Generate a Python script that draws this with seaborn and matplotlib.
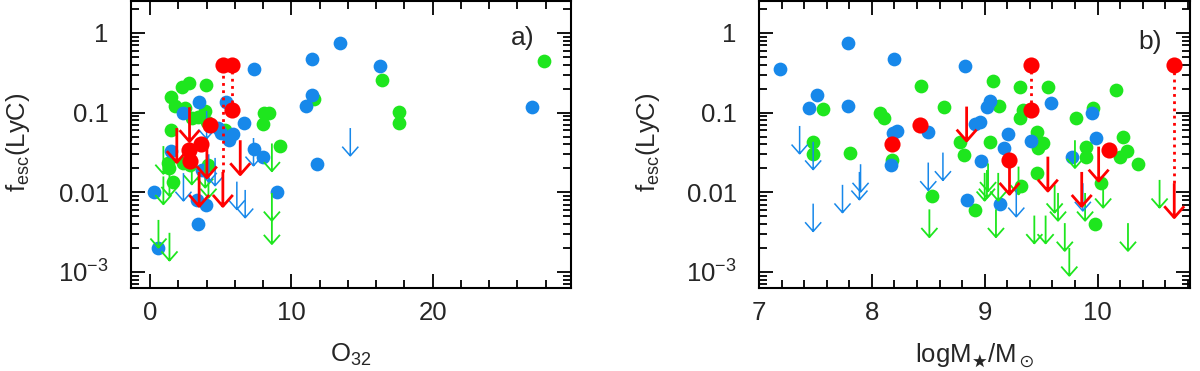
import matplotlib
matplotlib.use('Agg')
import matplotlib.pyplot as plt
from matplotlib.path import Path
from matplotlib.ticker import MultipleLocator, LogLocator, NullFormatter
import seaborn as sns

# ---- panel a) : fesc vs O32 ----
a_blue_x = [13.46, 11.45, 7.32, 16.3, 3.47, 5.36, 2.36, 11.45, 11.0, 27.04, 6.66, 4.84, 5.0,
            5.86, 5.6, 1.51, 7.37, 7.98, 11.8, 3.66, 8.98, 0.28, 3.3, 3.95, 3.38, 0.59]
a_blue_y = [0.74, 0.47, 0.353, 0.385, 0.137, 0.135, 0.10, 0.164, 0.121, 0.116, 0.075, 0.064, 0.055,
            0.054, 0.0455, 0.0333, 0.035, 0.0276, 0.0225, 0.019, 0.010, 0.010, 0.008, 0.007, 0.004, 0.002]
a_green_x = [2.72, 2.29, 3.95, 1.46, 1.77, 2.48, 3.9, 3.42, 2.95, 1.46, 5.31, 8.03, 8.45, 7.98,
             9.21, 1.30, 1.37, 2.36, 4.13, 1.65, 16.4, 17.64, 17.64, 27.9, 4.02, 11.6, 2.83]
a_green_y = [0.234, 0.209, 0.222, 0.159, 0.121, 0.114, 0.106, 0.089, 0.085, 0.061, 0.061, 0.098, 0.10, 0.071,
             0.0385, 0.023, 0.020, 0.023, 0.022, 0.0136, 0.257, 0.102, 0.074, 0.445, 0.077, 0.15, 0.022]
a_red_x = [5.15, 5.81, 5.81, 4.27, 3.59, 2.72, 2.79]
a_red_y = [0.40, 0.40, 0.108, 0.070, 0.0405, 0.034, 0.025]
# upper limits (arrow starts at the value)
a_blue_lim_x = [14.17, 2.36, 4.6, 4.15, 6.14, 6.73, 7.32, 4.0]
a_blue_lim_y = [0.064, 0.0174, 0.027, 0.030, 0.0136, 0.0107, 0.048, 0.105]
a_green_lim_x = [0.59, 1.37, 0.94, 0.94, 1.37, 2.95, 3.9, 4.13, 8.62, 8.62, 8.62]
a_green_lim_y = [0.0045, 0.0031, 0.038, 0.0158, 0.020, 0.028, 0.0255, 0.019, 0.041, 0.0098, 0.0050]
a_red_lim_x = [2.79, 1.89, 4.02, 3.47, 5.15, 6.38]
a_red_lim_y = [0.117, 0.064, 0.041, 0.018, 0.018, 0.045]
# same object, two estimates (dotted)
a_pair_x = [5.15, 5.81]
a_pair_hi = [0.40, 0.40]
a_pair_lo = [0.018, 0.108]

# ---- panel b) : fesc vs stellar mass ----
b_blue_x = [7.19, 7.79, 8.20, 8.83, 7.51, 7.44, 7.79, 8.22, 8.19, 8.50, 8.17, 8.84, 9.05, 9.02,
            9.59, 8.96, 8.91, 9.21, 9.17, 8.97, 9.41, 9.95, 9.99, 9.77, 9.14]
b_blue_y = [0.353, 0.74, 0.47, 0.389, 0.164, 0.1135, 0.121, 0.059, 0.055, 0.057, 0.022, 0.008, 0.141, 0.117,
            0.133, 0.076, 0.072, 0.0536, 0.0357, 0.025, 0.0445, 0.100, 0.0478, 0.0276, 0.0072]
b_green_x = [8.44, 8.64, 7.57, 8.07, 8.11, 7.48, 7.48, 7.81, 8.18, 8.78, 8.82, 8.53, 8.91, 9.07,
             9.31, 9.56, 10.16, 9.13, 9.34, 9.31, 9.96, 9.81, 9.46, 9.52, 9.47, 9.05, 9.90, 9.90,
             10.23, 10.26, 10.20, 10.36, 9.46, 9.32, 10.03, 9.98]
b_green_y = [0.216, 0.119, 0.111, 0.098, 0.085, 0.043, 0.030, 0.031, 0.0254, 0.0433, 0.029, 0.009, 0.006, 0.252,
             0.208, 0.208, 0.193, 0.122, 0.108, 0.085, 0.114, 0.085, 0.0578, 0.0413, 0.0357, 0.0433, 0.0374, 0.0276,
             0.050, 0.0334, 0.028, 0.0225, 0.0174, 0.012, 0.0132, 0.004]
b_red_x = [9.41, 9.41, 8.43, 8.18, 9.22, 10.10, 10.68]
b_red_y = [0.40, 0.108, 0.070, 0.0405, 0.0255, 0.034, 0.40]
b_blue_lim_x = [7.36, 7.48, 7.48, 7.74, 7.90, 7.89, 8.50, 8.63, 9.28, 9.87]
b_blue_lim_y = [0.068, 0.043, 0.0072, 0.0124, 0.0225, 0.018, 0.0236, 0.0315, 0.011, 0.013]
b_green_lim_x = [8.51, 9.03, 9.0, 9.10, 9.12, 9.30, 9.44, 9.54, 9.62, 9.65, 9.71, 9.75, 9.80,
                 9.89, 10.05, 10.27, 10.55, 9.02]
b_green_lim_y = [0.0061, 0.023, 0.0175, 0.0061, 0.0175, 0.021, 0.0051, 0.0051, 0.0124, 0.0098, 0.0041,
                 0.002, 0.045, 0.0098, 0.0143, 0.0041, 0.0143, 0.019]
b_red_lim_x = [8.84, 9.22, 9.56, 9.86, 10.01, 10.68]
b_red_lim_y = [0.119, 0.0255, 0.028, 0.018, 0.0374, 0.013]
b_pair_x = [9.41, 10.68]
b_pair_hi = [0.40, 0.40]
b_pair_lo = [0.108, 0.013]

ytick_vals = [1e-3, 1e-2, 1e-1, 1]
ytick_labels = ['$10^{-3}$', '0.01', '0.1', '1']

BLUE = '#1788ea'
GREEN = '#1ee61e'
RED = '#ff0000'

sns.set_style('ticks')
plt.rcParams['font.family'] = ['Liberation Sans', 'DejaVu Sans']
plt.rcParams['mathtext.fontset'] = 'custom'
plt.rcParams['mathtext.rm'] = 'Liberation Sans'
plt.rcParams['mathtext.it'] = 'Liberation Sans:italic'
plt.rcParams['mathtext.fallback'] = 'stix'

# down-arrow marker, anchored at its top
arrow = Path([(0, 0), (0, -1), (-0.29, -0.67), (0, -1), (0.29, -0.67)],
             [Path.MOVETO, Path.LINETO, Path.MOVETO, Path.LINETO, Path.LINETO])


def panel(ax, d, xlim, major, minor, xlabel, tag):
    sns.scatterplot(x=d['gx'], y=d['gy'], color=GREEN, s=98, linewidth=0, ax=ax, zorder=2)
    sns.scatterplot(x=d['bx'], y=d['by'], color=BLUE, s=98, linewidth=0, ax=ax, zorder=3)
    sns.scatterplot(x=d['glx'], y=d['gly'], marker=arrow, s=1600, color=GREEN, edgecolor=GREEN,
                    facecolor='none', linewidth=1.3, ax=ax, zorder=4)
    sns.scatterplot(x=d['blx'], y=d['bly'], marker=arrow, s=1600, color=BLUE, edgecolor=BLUE,
                    facecolor='none', linewidth=1.1, ax=ax, zorder=4)
    ax.vlines(d['px'], d['plo'], d['phi'], colors=RED, linestyles=(0, (1, 1.6)), linewidth=2, zorder=5)
    sns.scatterplot(x=d['rlx'], y=d['rly'], marker=arrow, s=2450, color=RED, edgecolor=RED,
                    facecolor='none', linewidth=2.0, ax=ax, zorder=6)
    sns.scatterplot(x=d['rx'], y=d['ry'], color=RED, s=135, linewidth=0, ax=ax, zorder=7)

    ax.set_yscale('log')
    ax.set_ylim(6.2e-4, 2.52)
    ax.set_xlim(*xlim)
    ax.set_yticks(ytick_vals)
    ax.set_yticklabels(ytick_labels)
    ax.yaxis.set_minor_locator(LogLocator(base=10, subs=range(2, 10), numticks=20))
    ax.yaxis.set_minor_formatter(NullFormatter())
    ax.xaxis.set_major_locator(MultipleLocator(major))
    ax.xaxis.set_minor_locator(MultipleLocator(minor))
    ax.tick_params(which='both', direction='in', top=True, right=True, width=1.3, color='black')
    ax.tick_params(which='major', length=10)
    ax.tick_params(which='minor', length=5.5)
    ax.tick_params(axis='x', labelsize=18.5, pad=9)
    ax.tick_params(axis='y', labelsize=18.5, pad=16)
    for sp in ax.spines.values():
        sp.set_linewidth(1.5)
        sp.set_color('black')
    ax.set_xlabel(xlabel, fontsize=18.5)
    ax.set_ylabel(r'f$_{\rm esc}$(LyC)', fontsize=18.5)
    ax.xaxis.set_label_coords(0.5, -0.185)
    ax.yaxis.set_label_coords(-0.225, 0.51)
    ax.text(tag[1], tag[2], tag[0], transform=ax.transAxes, fontsize=19, ha='center', va='center')


fig = plt.figure(figsize=(12, 3.71), dpi=100)
ax1 = fig.add_axes([0.1092, 0.2224, 0.3667, 0.775])
ax2 = fig.add_axes([0.6325, 0.2224, 0.3592, 0.775])

panel(ax1, dict(gx=a_green_x, gy=a_green_y, bx=a_blue_x, by=a_blue_y, rx=a_red_x, ry=a_red_y,
                glx=a_green_lim_x, gly=a_green_lim_y, blx=a_blue_lim_x, bly=a_blue_lim_y,
                rlx=a_red_lim_x, rly=a_red_lim_y, px=a_pair_x, phi=a_pair_hi, plo=a_pair_lo),
      (-1.35, 29.8), 10, 2, r'O$_{32}$', ('a)', 0.891, 0.871))
panel(ax2, dict(gx=b_green_x, gy=b_green_y, bx=b_blue_x, by=b_blue_y, rx=b_red_x, ry=b_red_y,
                glx=b_green_lim_x, gly=b_green_lim_y, blx=b_blue_lim_x, bly=b_blue_lim_y,
                rlx=b_red_lim_x, rly=b_red_lim_y, px=b_pair_x, phi=b_pair_hi, plo=b_pair_lo),
      (7.0, 10.82), 1, 0.2, r'logM$_\bigstar$/M$_\odot$', ('b)', 0.907, 0.857))

fig.savefig('out.png', dpi=100)
